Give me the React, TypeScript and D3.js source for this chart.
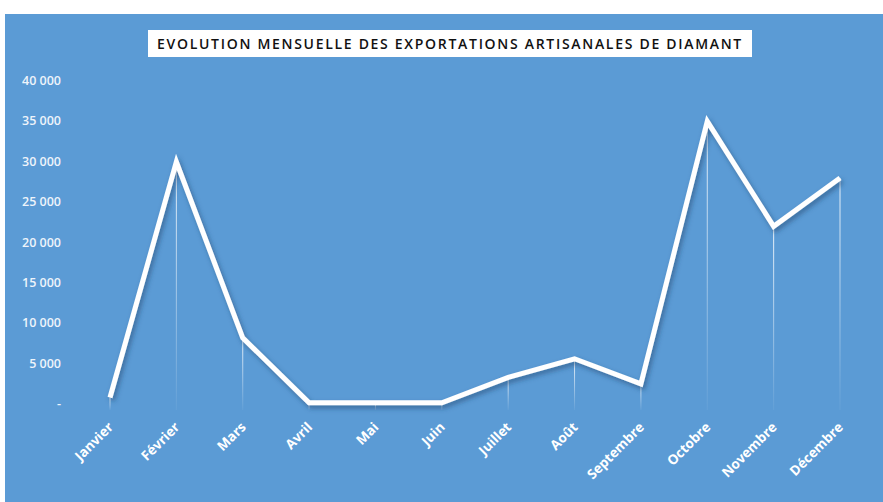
import React, { useEffect, useRef } from 'react';
import * as d3 from 'd3';

const months = ['Janvier', 'Février', 'Mars', 'Avril', 'Mai', 'Juin', 'Juillet', 'Août', 'Septembre', 'Octobre', 'Novembre', 'Décembre'];
const exports = [800, 30000, 8200, 150, 150, 150, 3300, 5600, 2500, 35000, 22000, 28000];
const yTicks = [0, 5000, 10000, 15000, 20000, 25000, 30000, 35000, 40000];
const title = 'EVOLUTION MENSUELLE DES EXPORTATIONS ARTISANALES DE DIAMANT';

export default function App() {
  const ref = useRef<SVGSVGElement>(null);

  useEffect(() => {
    const svg = d3.select(ref.current);
    svg.selectAll('*').remove();
    const W = 883, H = 502;
    const bg = '#5b9bd5';

    const defs = svg.append('defs');
    const f = defs.append('filter').attr('id', 'shadow').attr('x', '-10%').attr('y', '-10%').attr('width', '120%').attr('height', '130%');
    f.append('feDropShadow').attr('dx', 2).attr('dy', 3).attr('stdDeviation', 2.5)
      .attr('flood-color', '#1f3f66').attr('flood-opacity', 0.55);
    const g = defs.append('linearGradient').attr('id', 'drop').attr('x1', 0).attr('y1', 0).attr('x2', 0).attr('y2', 1);
    g.append('stop').attr('offset', '0%').attr('stop-color', '#fff').attr('stop-opacity', 0.9);
    g.append('stop').attr('offset', '100%').attr('stop-color', '#fff').attr('stop-opacity', 0.05);

    svg.append('rect').attr('width', W).attr('height', H).attr('fill', '#fff');
    svg.append('rect').attr('x', 5).attr('y', 14).attr('width', W - 5).attr('height', H - 14).attr('fill', bg);

    // title
    svg.append('rect').attr('x', 148).attr('y', 30).attr('width', 604).attr('height', 27).attr('fill', '#fff');
    svg.append('text').attr('x', 450).attr('y', 49).attr('text-anchor', 'middle')
      .attr('font-family', '"Open Sans", sans-serif').attr('font-weight', 600).attr('font-size', 14)
      .attr('letter-spacing', 1.7).attr('fill', '#111').text(title);

    const x = d3.scalePoint<string>().domain(months).range([110, 840]);
    const y = d3.scaleLinear().domain([0, 40000]).range([404, 81]);

    const fmt = (v: number) => v === 0 ? '-' : d3.format(',')(v).replace(/,/g, ' ');
    svg.append('g').selectAll('text').data(yTicks).enter().append('text')
      .attr('x', 61).attr('y', d => y(d) + 4).attr('text-anchor', 'end')
      .attr('font-family', '"Open Sans", sans-serif').attr('font-size', 12.5)
      .attr('font-weight', 600).attr('fill', '#eef4fb').text(d => fmt(d));

    // drop lines
    svg.append('g').selectAll('line').data(months).enter().append('line')
      .attr('x1', d => x(d)! + 0.01).attr('x2', d => x(d)!)
      .attr('y1', (d, i) => y(exports[i])).attr('y2', y(0) + 6)
      .attr('stroke', 'url(#drop)').attr('stroke-width', 1);

    const line = d3.line<number>().x((d, i) => x(months[i])!).y(d => y(d));
    svg.append('path').datum(exports).attr('d', line).attr('fill', 'none')
      .attr('stroke', '#fff').attr('stroke-width', 5).attr('stroke-linejoin', 'miter')
      .attr('filter', 'url(#shadow)');

    svg.append('g').selectAll('text').data(months).enter().append('text')
      .attr('transform', d => `translate(${x(d)! + 4},${428}) rotate(-45)`)
      .attr('text-anchor', 'end')
      .attr('font-family', '"Open Sans", sans-serif').attr('font-weight', 700).attr('font-size', 13.5)
      .attr('fill', '#fff').text(d => d);
  }, []);

  return <svg ref={ref} width={883} height={502} style={{ display: 'block', position: 'absolute', left: 0, top: 0 }} />;
}
